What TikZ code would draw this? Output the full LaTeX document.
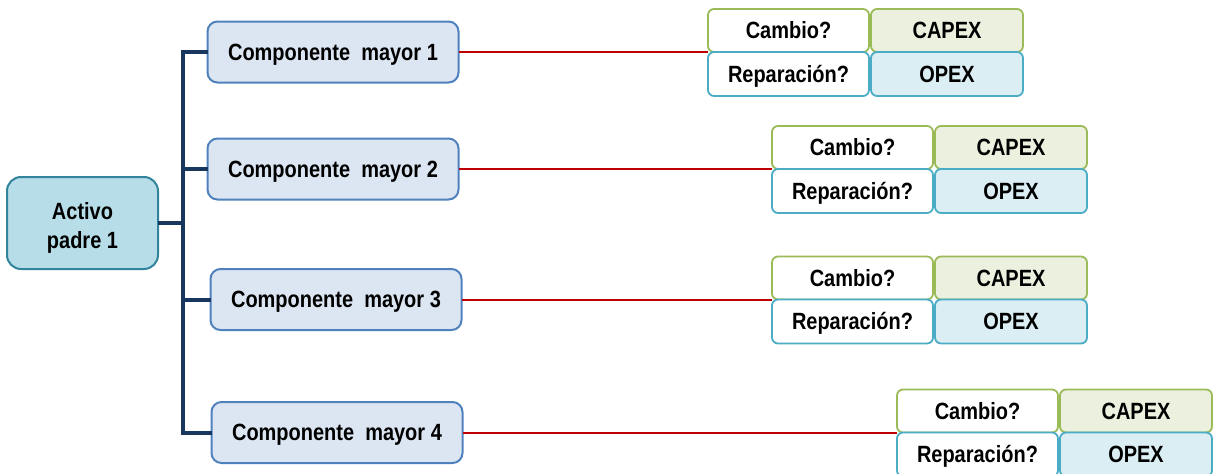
\documentclass[tikz,border=0pt]{standalone}
\usepackage{fontspec}
\setmainfont{Liberation Sans}[FakeStretch=0.85,BoldFeatures={FakeStretch=0.85}]
\definecolor{compfill}{RGB}{220,230,242}
\definecolor{compdraw}{RGB}{79,129,189}
\definecolor{parfill}{RGB}{183,222,232}
\definecolor{pardraw}{RGB}{49,132,155}
\definecolor{grn}{RGB}{155,187,89}
\definecolor{grnfill}{RGB}{235,241,222}
\definecolor{teal}{RGB}{75,172,198}
\definecolor{tealfill}{RGB}{218,238,243}
\definecolor{navy}{RGB}{23,55,94}
\definecolor{redl}{RGB}{192,0,0}
\begin{document}
\begin{tikzpicture}[x=1pt,y=-1pt,
  every node/.style={font=\fontsize{23.5}{29}\selectfont\bfseries, inner sep=0pt, outer sep=0pt, text=black, text height=16.8pt, text depth=0pt},
  parent/.style={draw=pardraw, fill=parfill, line width=2pt, rounded corners=14pt, minimum width=151pt, minimum height=92pt, align=center},
  comp/.style={draw=compdraw, fill=compfill, line width=2pt, rounded corners=10pt, minimum width=251pt, minimum height=61pt},
  cambio/.style={draw=grn, fill=white, line width=1.8pt, rounded corners=6pt, minimum width=161pt, minimum height=43pt, anchor=south west},
  capex/.style={draw=grn, fill=grnfill, line width=1.8pt, rounded corners=6pt, minimum width=152pt, minimum height=43pt, anchor=south west},
  repar/.style={draw=teal, fill=white, line width=1.8pt, rounded corners=6pt, minimum width=161pt, minimum height=44pt, anchor=north west},
  opex/.style={draw=teal, fill=tealfill, line width=1.8pt, rounded corners=6pt, minimum width=152pt, minimum height=44pt, anchor=north west},
  bracket/.style={draw=navy, line width=4pt},
  redline/.style={draw=redl, line width=2pt}]
\useasboundingbox (0,0) rectangle (1216,474);

% parent and components
\node[parent, text height=50pt] (p) at (82.5,223) {Activo\\padre 1};
\node[comp] (c1) at (333,52) {Componente\ \ mayor 1};
\node[comp] (c2) at (333,169) {Componente\ \ mayor 2};
\node[comp] (c3) at (336,299.5) {Componente\ \ mayor 3};
\node[comp] (c4) at (337,432.5) {Componente\ \ mayor 4};

% clusters
\node[cambio] (ca1) at (708,52) {Cambio?};
\node[capex]  (cx1) at (871,52) {CAPEX};
\node[repar]  (re1) at (708,52) {Reparación?};
\node[opex]   (op1) at (871,52) {OPEX};

\node[cambio] (ca2) at (772,169) {Cambio?};
\node[capex]  (cx2) at (935,169) {CAPEX};
\node[repar]  (re2) at (772,169) {Reparación?};
\node[opex]   (op2) at (935,169) {OPEX};

\node[cambio] (ca3) at (772,299.5) {Cambio?};
\node[capex]  (cx3) at (935,299.5) {CAPEX};
\node[repar]  (re3) at (772,299.5) {Reparación?};
\node[opex]   (op3) at (935,299.5) {OPEX};

\node[cambio] (ca4) at (897,432.5) {Cambio?};
\node[capex]  (cx4) at (1060,432.5) {CAPEX};
\node[repar]  (re4) at (897,432.5) {Reparación?};
\node[opex]   (op4) at (1060,432.5) {OPEX};

% bracket
\coordinate (j) at (183,223);
\draw[bracket] (p.east) -- (j);
\draw[bracket, line join=miter] (c1.west) -| (j) |- (c4.west);
\draw[bracket] (c2.west) -- (c2.west -| j);
\draw[bracket] (c3.west) -- (c3.west -| j);

% red connectors
\draw[redline] (c1.east) -- (ca1.south west);
\draw[redline] (c2.east) -- (ca2.south west);
\draw[redline] (c3.east) -- (ca3.south west);
\draw[redline] (c4.east) -- (ca4.south west);
\end{tikzpicture}
\end{document}
